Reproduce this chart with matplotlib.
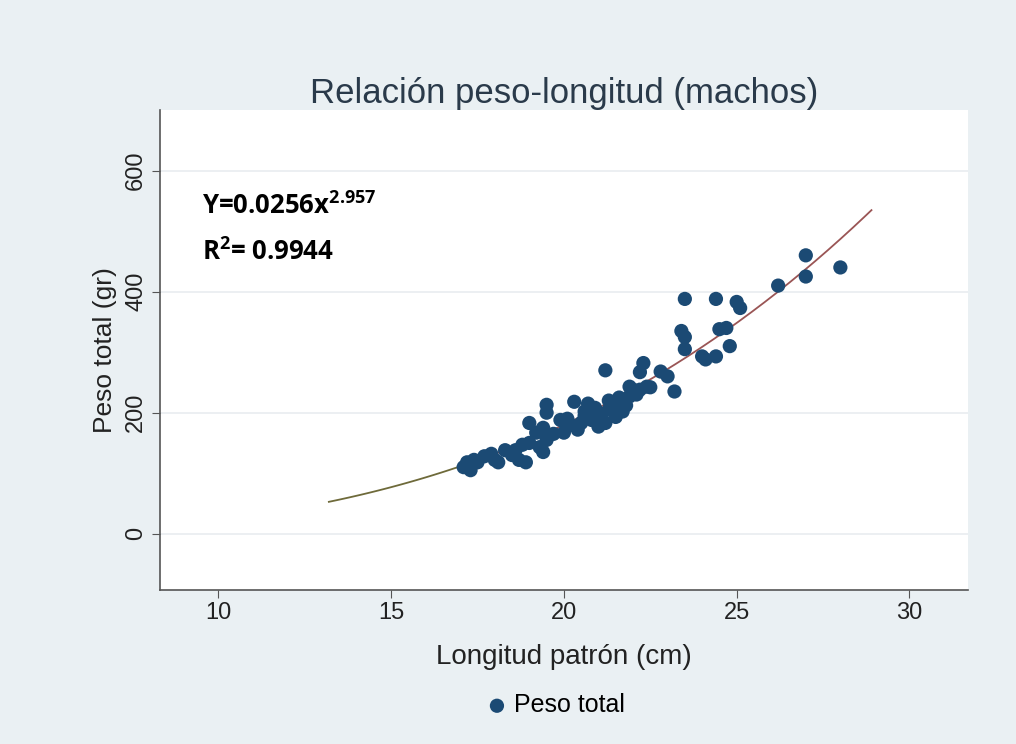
import numpy as np
import matplotlib.pyplot as plt

# longitud patron (cm) y peso total (gr)
longitud = [17.1, 17.2, 17.3, 17.4, 17.5, 17.7, 17.9, 18.0, 18.1, 18.3,
            18.5, 18.6, 18.7, 18.8, 18.9, 19.0, 19.0, 19.2, 19.3, 19.4,
            19.4, 19.5, 19.5, 19.5, 19.7, 19.9, 20.0, 20.1, 20.2, 20.3,
            20.4, 20.5, 20.6, 20.6, 20.7, 20.8, 20.9, 21.0, 21.0, 21.1,
            21.2, 21.2, 21.3, 21.3, 21.4, 21.5, 21.6, 21.6, 21.7, 21.8,
            21.9, 21.9, 22.0, 22.1, 22.2, 22.2, 22.3, 22.4, 22.5, 22.8,
            23.0, 23.2, 23.4, 23.5, 23.5, 23.5, 24.0, 24.1, 24.4, 24.4,
            24.5, 24.7, 24.8, 25.0, 25.1, 26.2, 27.0, 27.0, 28.0]
peso = [110, 118, 105, 122, 118, 128, 132, 122, 118, 138,
        130, 138, 122, 147, 118, 183, 150, 167, 143, 135,
        175, 155, 200, 213, 165, 188, 167, 190, 180, 218,
        172, 183, 202, 195, 215, 188, 208, 177, 200, 188,
        270, 183, 205, 220, 215, 193, 210, 225, 202, 212,
        227, 243, 238, 230, 267, 238, 282, 243, 242, 268,
        260, 235, 335, 325, 305, 388, 293, 288, 293, 388,
        338, 340, 310, 383, 373, 410, 460, 425, 440]

a_coef = 0.0256
b_coef = 2.957
x_fit_min, x_fit_max = 13.2, 28.9

plt.rcParams['font.family'] = ['Liberation Sans', 'DejaVu Sans']
plt.rcParams['mathtext.fontset'] = 'custom'
plt.rcParams['mathtext.rm'] = 'Open Sans'
plt.rcParams['mathtext.bf'] = 'Open Sans:bold'

bg = '#eaf0f3'
fig = plt.figure(figsize=(10.16, 7.44), dpi=100, facecolor=bg)
ax = fig.add_axes([0.157, 0.207, 0.796, 0.645])
ax.set_facecolor('white')

for yv in [0, 200, 400, 600]:
    ax.axhline(yv, color='#eaeef1', lw=1.3, zorder=0)

xf = np.linspace(x_fit_min, x_fit_max, 300)
yf = a_coef * xf ** b_coef
lo = xf <= 17.3
ax.plot(xf[lo], yf[lo], color='#6e6a3a', lw=1.3, zorder=2)
ax.plot(xf[~lo], yf[~lo], color='#9a5555', lw=1.3, zorder=2)

ax.scatter(longitud, peso, s=105, color='#1b4a74', edgecolors='none',
           zorder=3, label='Peso total')

ax.set_xlim(8.3, 31.7)
ax.set_ylim(-93, 700)
ax.set_xticks([10, 15, 20, 25, 30])
ax.set_yticks([0, 200, 400, 600])
ax.tick_params(axis='both', direction='out', length=6, color='#555555',
               labelsize=17, labelcolor='#222222', pad=3)
for lab in ax.get_yticklabels():
    lab.set_rotation(90)
    lab.set_va('center')

for s in ['top', 'right']:
    ax.spines[s].set_visible(False)
for s in ['left', 'bottom']:
    ax.spines[s].set_color('#555555')
    ax.spines[s].set_linewidth(1.2)

ax.set_title('Relación peso-longitud (machos)', fontsize=25, color='#2a3a4a', pad=4)
ax.set_xlabel('Longitud patrón (cm)', fontsize=20, color='#222222', labelpad=14)
ax.set_ylabel('Peso total (gr)', fontsize=19, color='#222222', labelpad=6)

ax.text(0.052, 0.80, r'Y=0.0256x$^{\mathbf{2.957}}$', transform=ax.transAxes,
        fontsize=18.5, fontweight='bold', family='Open Sans', va='center')
ax.text(0.052, 0.705, r'R$^{\mathbf{2}}$= 0.9944', transform=ax.transAxes,
        fontsize=18.5, fontweight='bold', family='Open Sans', va='center')

fig.legend(handles=[ax.collections[0]], labels=['Peso total'],
           loc='center', bbox_to_anchor=(0.54, 0.052), frameon=False,
           fontsize=18, handletextpad=-0.3, markerscale=1.0)

fig.savefig('out.png', dpi=100, facecolor=bg)
